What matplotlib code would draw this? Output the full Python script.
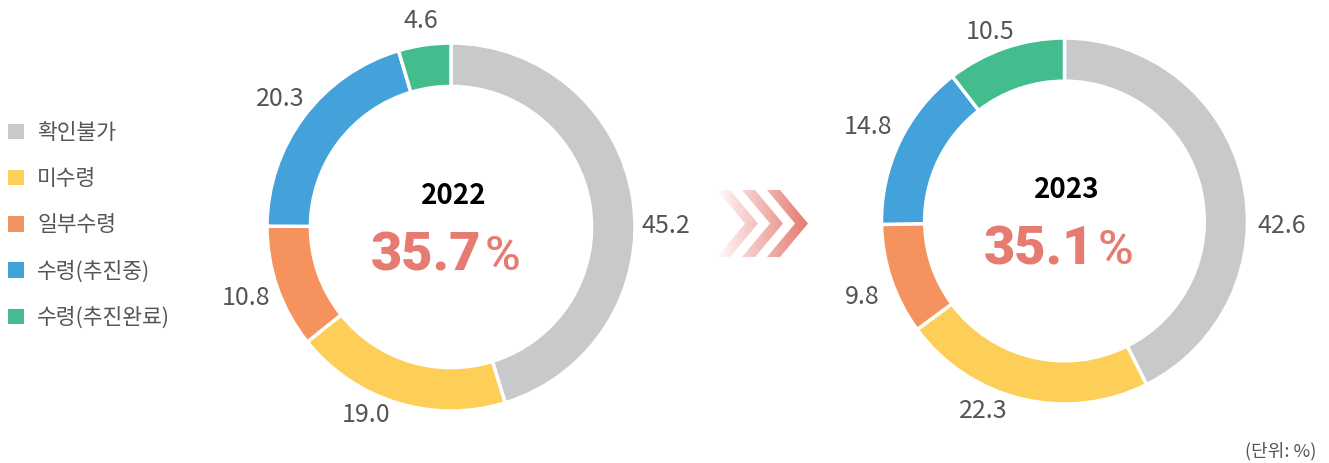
import numpy as np
import matplotlib
matplotlib.use("Agg")
import matplotlib.pyplot as plt
import matplotlib.patches as mpatches
from matplotlib.path import Path

plt.rcParams['font.family'] = ['Noto Sans CJK KR', 'DejaVu Sans']

# ---------------- data ----------------
categories = ['확인불가', '미수령', '일부수령', '수령(추진중)', '수령(추진완료)']
values_2022 = [45.2, 19.0, 10.8, 20.3, 4.6]
values_2023 = [42.6, 22.3, 9.8, 14.8, 10.5]
years = ['2022', '2023']
center_rates = ['35.7', '35.1']
unit_label = '(단위: %)'

# ---------------- style ----------------
colors = ['#C8C9CB', '#FDCF58', '#F5925D', '#44A2DB', '#43BD8E']
label_color = '#555555'
red = '#E67B72'

W, H = 1329, 463
fig = plt.figure(figsize=(W / 100, H / 100), dpi=100)

# overlay axes in pixel coordinates for decorations
ov = fig.add_axes([0, 0, 1, 1])
ov.set_xlim(0, W)
ov.set_ylim(H, 0)
ov.axis('off')


def px_axes(cx, cy, r):
    return fig.add_axes([(cx - r) / W, (H - (cy + r)) / H, 2 * r / W, 2 * r / H])


# label tweaks: (angle shift in degrees, radial distance)
label_tweaks = [
    [(-8.3, 1.17), (-7.2, 1.12), (0, 1.18), (0, 1.16), (0, 1.13)],
    [(-14.6, 1.19), (-9.6, 1.13), (2, 1.18), (0, 1.19), (2.6, 1.11)],
]
donut_geom = [(451, 227, 184), (1064.5, 221, 183)]


def donut(ax, vals, tweaks, year, rate):
    wedges, _ = ax.pie(vals, colors=colors, startangle=90, counterclock=False,
                       radius=1,
                       wedgeprops=dict(width=0.236, edgecolor='white', linewidth=2.5))
    ax.set_xlim(-1, 1)
    ax.set_ylim(-1, 1)
    for w, v, (da, r) in zip(wedges, vals, tweaks):
        mid = np.deg2rad((w.theta1 + w.theta2) / 2 + da)
        ax.text(r * np.cos(mid), r * np.sin(mid), f'{v:.1f}', ha='center',
                va='center', fontsize=18, color=label_color, clip_on=False)
    ax.text(0.015, 0.17, year, ha='center', va='center', fontsize=20,
            fontweight='bold', color='black')
    ax.text(0.162, -0.235, rate, ha='right', va='baseline', fontsize=39,
            family=['Roboto', 'DejaVu Sans'], fontweight='black', color=red)
    ax.text(0.183, -0.235, '%', ha='left', va='baseline', fontsize=35,
            family=['Roboto', 'DejaVu Sans'], fontweight='medium', color=red)
    return wedges


for vals, tw, (cx, cy, r), yr, rt in zip([values_2022, values_2023], label_tweaks,
                                        donut_geom, years, center_rates):
    ax = px_axes(cx, cy, r)
    donut(ax, vals, tw, yr, rt)

# legend
handles = [mpatches.Patch(facecolor=c, edgecolor='none') for c in colors]
fig.legend(handles=handles, labels=categories, loc='upper left',
           bbox_to_anchor=(8 / W, 1 - 122 / H), frameon=False, fontsize=15.5,
           handlelength=0.75, handleheight=0.75, handletextpad=0.6,
           labelspacing=1.12, borderaxespad=0, borderpad=0,
           labelcolor=label_color)

# chevron arrows with horizontal gradient
x_start, x_end, y_top, y_bot = 717, 808, 190, 257
y_mid = (y_top + y_bot) / 2
verts, codes = [], []
for x0 in (717, 742, 767):
    pts = [(x0, y_top), (x0 + 13, y_top), (x0 + 41, y_mid), (x0 + 13, y_bot),
           (x0, y_bot), (x0 + 28, y_mid), (x0, y_top)]
    verts += pts
    codes += [Path.MOVETO] + [Path.LINETO] * 5 + [Path.CLOSEPOLY]
clip = mpatches.PathPatch(Path(verts, codes), transform=ov.transData,
                          facecolor='none', edgecolor='none')
ov.add_patch(clip)
rgb = matplotlib.colors.to_rgb(red)
n = 256
grad = np.zeros((1, n, 4))
grad[..., 0], grad[..., 1], grad[..., 2] = rgb
grad[0, :, 3] = np.linspace(0.0, 1.0, n) ** 0.9
im = ov.imshow(grad, extent=[x_start, x_end, y_bot, y_top], aspect='auto',
               interpolation='bilinear')
im.set_clip_path(clip)
ov.set_xlim(0, W)
ov.set_ylim(H, 0)

ov.text(1316, 451, unit_label, ha='right', va='center', fontsize=13,
        color=label_color)

fig.savefig('out.png', dpi=100)
